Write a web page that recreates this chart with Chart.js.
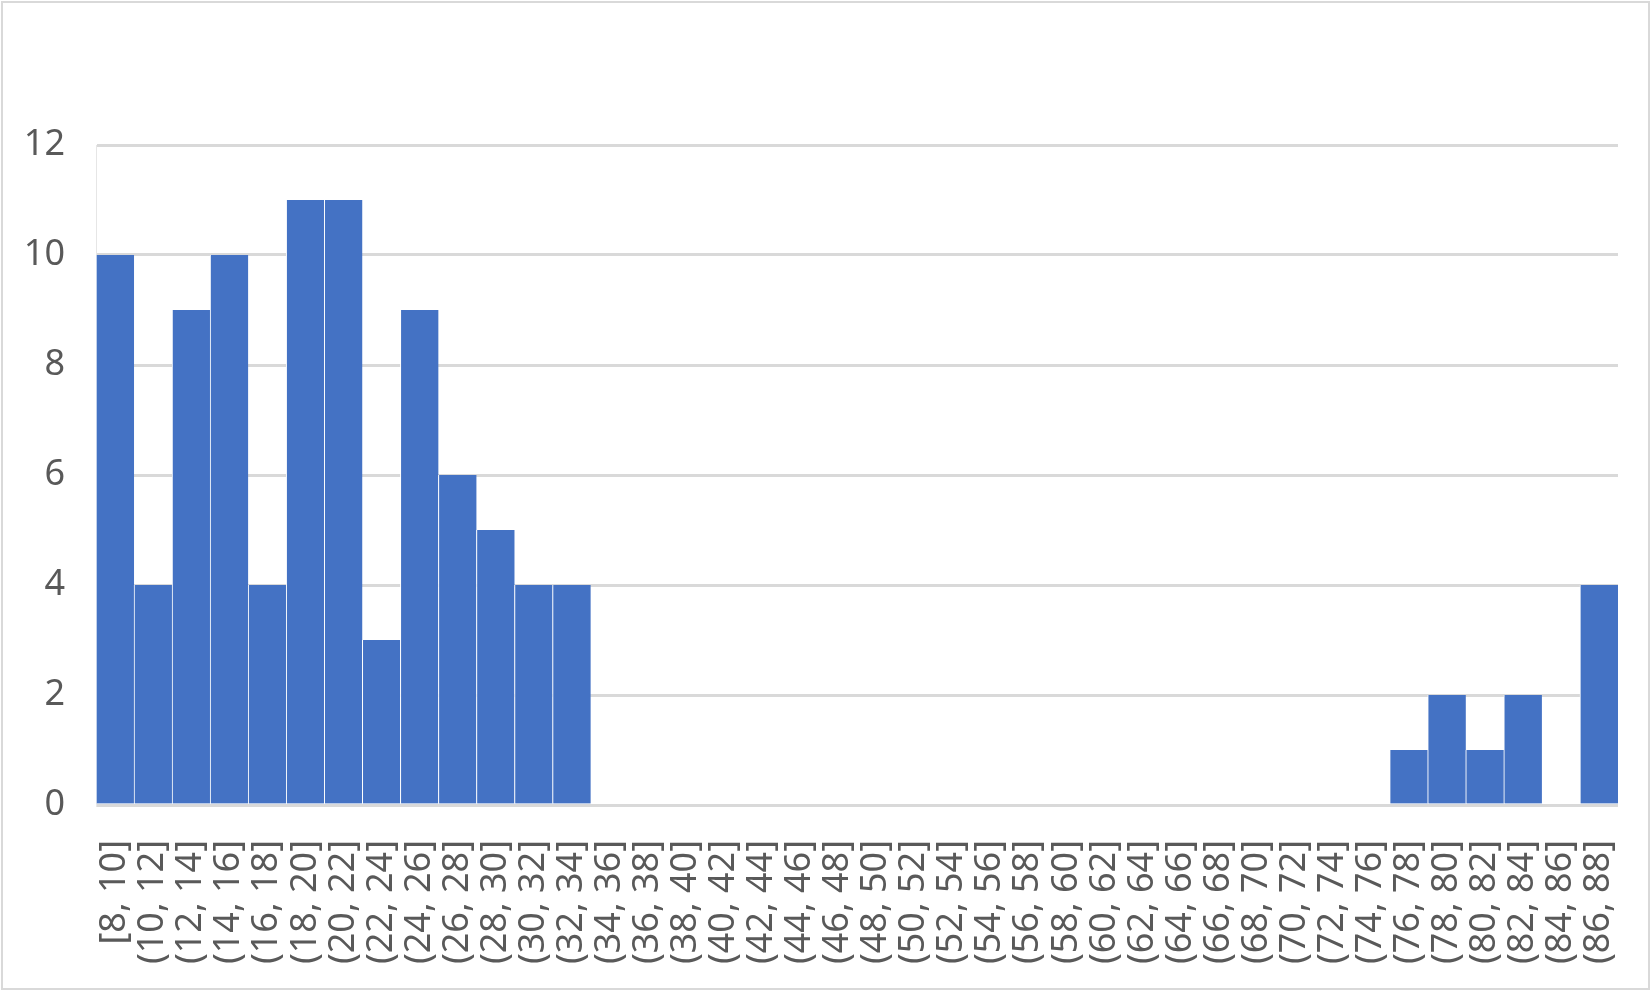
<!DOCTYPE html>
<html>
<head>
<meta charset="utf-8">
<script src="https://cdn.jsdelivr.net/npm/chart.js@4/dist/chart.umd.min.js"></script>
<style>
  html, body { margin: 0; padding: 0; background: #fff; }
  #wrap { width: 1651px; height: 991px; position: relative; }
</style>
</head>
<body>
<div id="wrap"><canvas id="myChart" width="1651" height="991"></canvas></div>
<script>
// Histogram bins and counts
const binLabels = [
    '[8, 10]', '(10, 12]', '(12, 14]', '(14, 16]', '(16, 18]', '(18, 20]', '(20, 22]', '(22, 24]',
    '(24, 26]', '(26, 28]', '(28, 30]', '(30, 32]', '(32, 34]', '(34, 36]', '(36, 38]', '(38, 40]',
    '(40, 42]', '(42, 44]', '(44, 46]', '(46, 48]', '(48, 50]', '(50, 52]', '(52, 54]', '(54, 56]',
    '(56, 58]', '(58, 60]', '(60, 62]', '(62, 64]', '(64, 66]', '(66, 68]', '(68, 70]', '(70, 72]',
    '(72, 74]', '(74, 76]', '(76, 78]', '(78, 80]', '(80, 82]', '(82, 84]', '(84, 86]', '(86, 88]'
];
const counts = [
    10, 4, 9, 10, 4, 11, 11, 3,
    9, 6, 5, 4, 4, 0, 0, 0,
    0, 0, 0, 0, 0, 0, 0, 0,
    0, 0, 0, 0, 0, 0, 0, 0,
    0, 0, 1, 2, 1, 2, 0, 4
];
const yTicks = { min: 0, max: 12, step: 2 };

const textColor = '#595959';
const gridColor = '#d9d9d9';
const barColor = '#4472C4';

// white background + light frame around the whole chart
const frame = {
    id: 'frame',
    beforeDraw(chart) {
        const ctx = chart.ctx;
        ctx.save();
        ctx.fillStyle = '#ffffff';
        ctx.fillRect(0, 0, chart.width, chart.height);
        ctx.strokeStyle = gridColor;
        ctx.lineWidth = 2;
        ctx.strokeRect(2, 2, chart.width - 4, chart.height - 4);
        ctx.restore();
    }
};

const ctx = document.getElementById('myChart').getContext('2d');
const chart = new Chart(ctx, {
    type: 'bar',
    data: {
        labels: binLabels,
        datasets: [{
            data: counts,
            backgroundColor: barColor,
            borderColor: '#ffffff',
            borderWidth: { left: 1, right: 0, top: 0, bottom: 0 },
            barPercentage: 1,
            categoryPercentage: 1,
        }]
    },
    options: {
        responsive: false,
        animation: false,
        devicePixelRatio: 1,
        layout: { padding: { top: 145, right: 33, bottom: 0, left: 0 } },
        plugins: {
            legend: { display: false },
            tooltip: { enabled: false },
        },
        scales: {
            x: {
                grid: { display: false, drawTicks: false },
                border: { display: false },
                ticks: {
                    color: textColor,
                    font: { family: 'Noto Sans', size: 36 },
                    maxRotation: 90,
                    minRotation: 90,
                    autoSkip: false,
                    padding: 35,
                },
                afterFit(scale) {
                    scale.height = 186;
                    // rotated labels sit inside the bins, no extra side room needed
                    scale.paddingLeft = 0;
                    scale.paddingRight = 0;
                },
            },
            y: {
                min: yTicks.min,
                max: yTicks.max,
                grid: { color: gridColor, lineWidth: 3, drawTicks: false },
                border: { display: true, color: '#e6e6e6', width: 1 },
                ticks: {
                    stepSize: yTicks.step,
                    color: textColor,
                    font: { family: 'Noto Sans', size: 36 },
                    padding: 31,
                },
                afterFit(scale) { scale.width = 96; },
            },
        },
    },
    plugins: [frame],
});
</script>
</body>
</html>
